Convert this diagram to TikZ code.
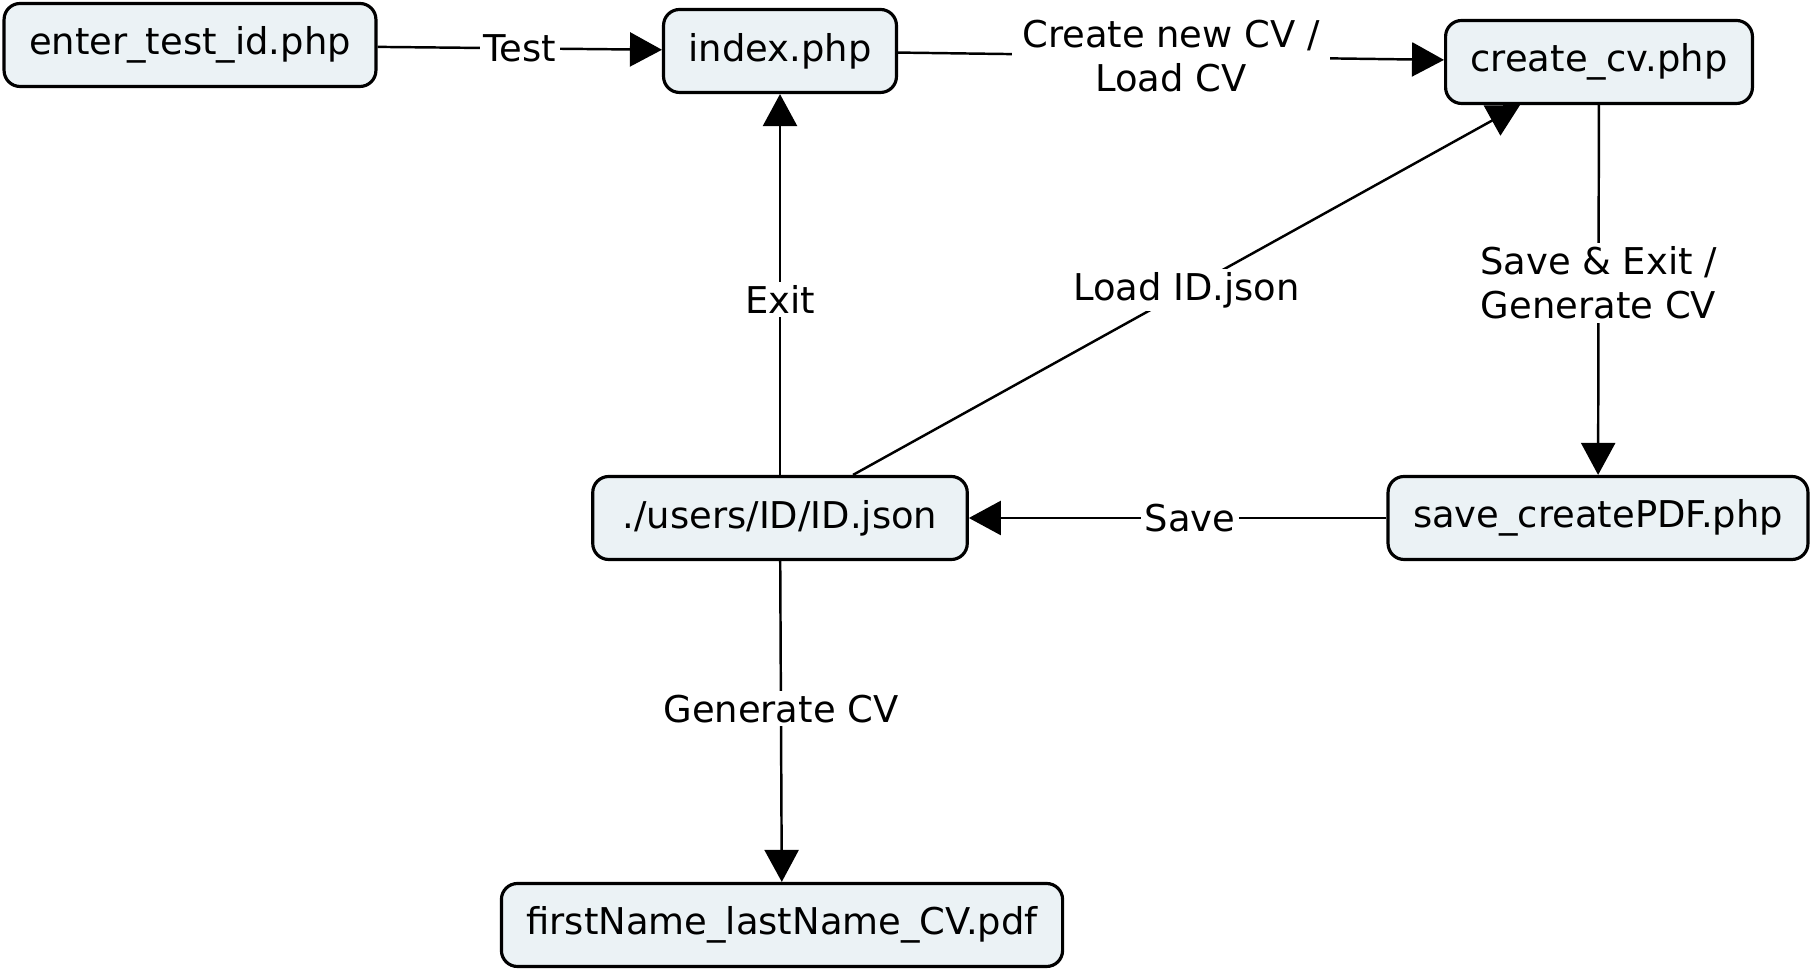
\documentclass[tikz,border=0pt]{standalone}
\usepackage{fontspec}
\setmainfont{DejaVu Sans}
\usetikzlibrary{arrows.meta}
\definecolor{boxfill}{RGB}{235,242,245}

\begin{document}
\begin{tikzpicture}[
    main/.style = {draw, line width=0.9pt, fill=boxfill, rounded corners=0.16cm,
                   minimum height=0.83cm, inner xsep=0.25cm,
                   font=\fontsize{10.5}{12.6}\selectfont},
    edge/.style = {line width=0.7pt, -{Triangle[length=0.32cm, width=0.34cm]}},
    lbl/.style = {fill=white, inner sep=1pt, align=center,
                  font=\fontsize{10.5}{12.6}\selectfont}]
    \useasboundingbox (0,0) rectangle (18.13,-9.74);

    \node[main] (enter) at (1.90,-0.45) {enter\_test\_id.php};
    \node[main] (index) at (7.80,-0.51) {index.php};
    \node[main] (create) at (15.99,-0.62) {create\_cv.php};
    \node[main, inner xsep=0.3cm] (users) at (7.80,-5.18) {./users/ID/ID.json};
    \node[main] (save) at (15.98,-5.18) {save\_createPDF.php};
    \node[main] (pdf) at (7.82,-9.25) {firstName\_lastName\_CV.pdf};

    \draw[edge] (enter) -- node[lbl] {Test} (index);
    \draw[edge] (index) -- node[lbl, inner xsep=3pt] {Create new CV /\\Load CV} (create);
    \draw[edge] ([xshift=0.73cm]users.north) -- node[lbl] {Load ID.json} ([xshift=-0.79cm]create.south);
    \draw[edge] (users) -- node[lbl, pos=0.46] {Exit} (index);
    \draw[edge] (create) -- node[lbl, pos=0.48] {Save \& Exit /\\Generate CV} (save);
    \draw[edge] (save) -- node[lbl, pos=0.47] {Save} (users);
    \draw[edge] (users) -- node[lbl, pos=0.46] {Generate CV} (pdf);
\end{tikzpicture}
\end{document}
